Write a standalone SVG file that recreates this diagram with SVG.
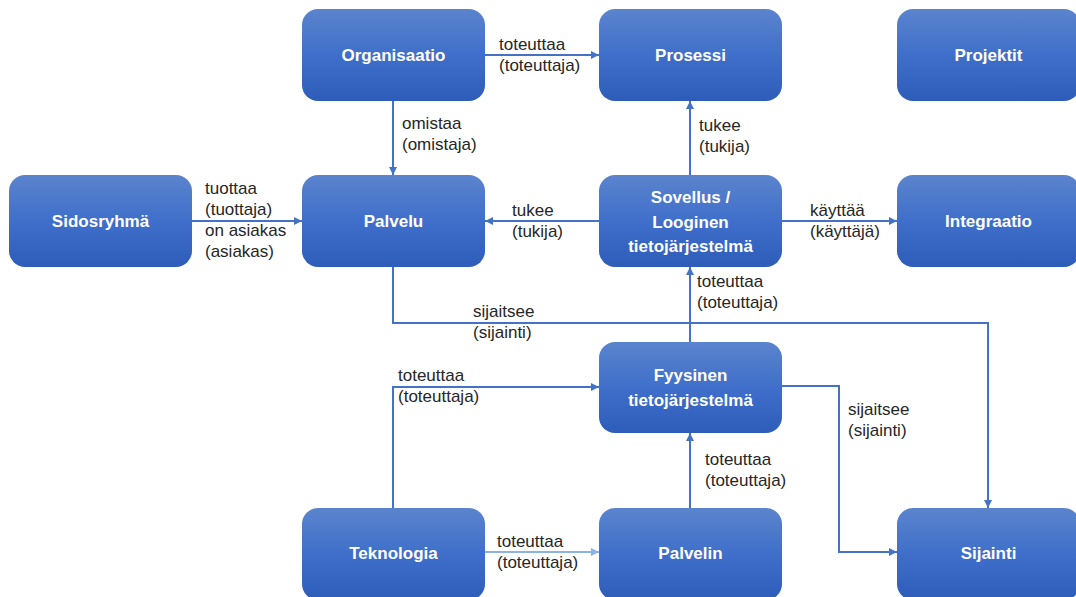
<svg xmlns="http://www.w3.org/2000/svg" width="1076" height="597" viewBox="0 0 1076 597">
  <defs>
    <linearGradient id="nodeFill" x1="0" y1="0" x2="0" y2="1">
      <stop offset="0" stop-color="#5b84cd"/>
      <stop offset="0.5" stop-color="#3f6fca"/>
      <stop offset="1" stop-color="#2e5db9"/>
    </linearGradient>
    <marker id="arrow" viewBox="0 0 10 10" refX="10" refY="5" markerWidth="9" markerHeight="8" markerUnits="userSpaceOnUse" orient="auto">
      <path d="M0,0 L10,5 L0,10 z" fill="#4472c4"/>
    </marker>
    <marker id="arrowLight" viewBox="0 0 10 10" refX="10" refY="5" markerWidth="9" markerHeight="8" markerUnits="userSpaceOnUse" orient="auto">
      <path d="M0,0 L10,5 L0,10 z" fill="#8db2e4"/>
    </marker>
  </defs>
  <style>
    .box { fill: url(#nodeFill); }
    .name { font-family: "Liberation Sans", Arial, sans-serif; font-weight: bold; font-size: 17px; fill: #ffffff; text-anchor: middle; }
    .edge { fill: none; stroke: #4472c4; stroke-width: 2; marker-end: url(#arrow); }
    .edge.light { stroke: #8db2e4; marker-end: url(#arrowLight); }
    .lbl { font-family: "Liberation Sans", Arial, sans-serif; font-size: 17px; fill: #262626; }
  </style>

  <rect width="1076" height="597" fill="#ffffff"/>

  <!-- connectors -->
  <g id="connectors">
    <path class="edge" d="M485,55 H599"/>
    <path class="edge" d="M393,101 V175"/>
    <path class="edge" d="M192,221 H302"/>
    <path class="edge" d="M599,221 H485"/>
    <path class="edge" d="M690,175 V101"/>
    <path class="edge" d="M782,221 H897"/>
    <path class="edge" d="M690,342 V267"/>
    <path class="edge" d="M393,267 V323 H988 V508"/>
    <path class="edge" d="M393,508 V387 H599"/>
    <path class="edge" d="M782,386 H839 V552 H897"/>
    <path class="edge" d="M690,508 V433"/>
    <path class="edge light" d="M485,552 H599"/>

    <text class="lbl" x="499" y="50">toteuttaa</text>
    <text class="lbl" x="499" y="71">(toteuttaja)</text>

    <text class="lbl" x="402" y="129">omistaa</text>
    <text class="lbl" x="402" y="150">(omistaja)</text>

    <text class="lbl" x="205" y="194">tuottaa</text>
    <text class="lbl" x="205" y="215">(tuottaja)</text>
    <text class="lbl" x="205" y="236">on asiakas</text>
    <text class="lbl" x="205" y="257">(asiakas)</text>

    <text class="lbl" x="512" y="216">tukee</text>
    <text class="lbl" x="512" y="237">(tukija)</text>

    <text class="lbl" x="699" y="131">tukee</text>
    <text class="lbl" x="699" y="152">(tukija)</text>

    <text class="lbl" x="810" y="216">käyttää</text>
    <text class="lbl" x="810" y="237">(käyttäjä)</text>

    <text class="lbl" x="697" y="287">toteuttaa</text>
    <text class="lbl" x="697" y="308">(toteuttaja)</text>

    <text class="lbl" x="473" y="317">sijaitsee</text>
    <text class="lbl" x="473" y="338">(sijainti)</text>

    <text class="lbl" x="398" y="381">toteuttaa</text>
    <text class="lbl" x="398" y="402">(toteuttaja)</text>

    <text class="lbl" x="848" y="415">sijaitsee</text>
    <text class="lbl" x="848" y="436">(sijainti)</text>

    <text class="lbl" x="705" y="465">toteuttaa</text>
    <text class="lbl" x="705" y="486">(toteuttaja)</text>

    <text class="lbl" x="497" y="547">toteuttaa</text>
    <text class="lbl" x="497" y="568">(toteuttaja)</text>
  </g>

  <!-- nodes -->
  <g id="organisaatio">
    <rect class="box" x="302" y="9" width="183" height="92" rx="16"/>
    <text class="name" x="393.5" y="61">Organisaatio</text>
  </g>
  <g id="prosessi">
    <rect class="box" x="599" y="9" width="183" height="92" rx="16"/>
    <text class="name" x="690.5" y="61">Prosessi</text>
  </g>
  <g id="projektit">
    <rect class="box" x="897" y="9" width="183" height="92" rx="16"/>
    <text class="name" x="988.5" y="61">Projektit</text>
  </g>
  <g id="sidosryhma">
    <rect class="box" x="9" y="175" width="183" height="92" rx="16"/>
    <text class="name" x="100.5" y="227">Sidosryhmä</text>
  </g>
  <g id="palvelu">
    <rect class="box" x="302" y="175" width="183" height="92" rx="16"/>
    <text class="name" x="393.5" y="227">Palvelu</text>
  </g>
  <g id="sovellus">
    <rect class="box" x="599" y="175" width="183" height="92" rx="16"/>
    <text class="name" x="690.5" y="203">Sovellus /</text>
    <text class="name" x="690.5" y="227.5">Looginen</text>
    <text class="name" x="690.5" y="252">tietojärjestelmä</text>
  </g>
  <g id="integraatio">
    <rect class="box" x="897" y="175" width="183" height="92" rx="16"/>
    <text class="name" x="988.5" y="227">Integraatio</text>
  </g>
  <g id="fyysinen">
    <rect class="box" x="599" y="342" width="183" height="91" rx="16"/>
    <text class="name" x="690.5" y="381">Fyysinen</text>
    <text class="name" x="690.5" y="406">tietojärjestelmä</text>
  </g>
  <g id="teknologia">
    <rect class="box" x="302" y="508" width="183" height="92" rx="16"/>
    <text class="name" x="393.5" y="559">Teknologia</text>
  </g>
  <g id="palvelin">
    <rect class="box" x="599" y="508" width="183" height="92" rx="16"/>
    <text class="name" x="690.5" y="559">Palvelin</text>
  </g>
  <g id="sijainti">
    <rect class="box" x="897" y="508" width="183" height="92" rx="16"/>
    <text class="name" x="988.5" y="559">Sijainti</text>
  </g>
</svg>
